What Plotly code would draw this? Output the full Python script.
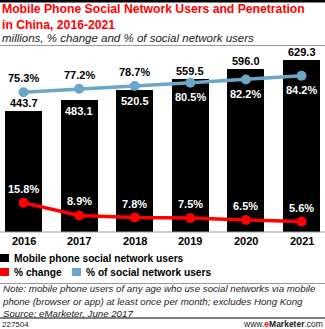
import plotly.graph_objects as go

# Data
years = ["2016", "2017", "2018", "2019", "2020", "2021"]
users_m = [443.7, 483.1, 520.5, 559.5, 596.0, 629.3]
pct_change = [15.8, 8.9, 7.8, 7.5, 6.5, 5.6]
pct_of_sn = [75.3, 77.2, 78.7, 80.5, 82.2, 84.2]

# label placement per bar / point
user_label_inside = [False, True, True, False, False, False]
sn_label_below = [False, False, False, True, True, True]

W, H = 325, 329
PLOT_TOP, PLOT_BOTTOM = 50, 232
PLOT_H = PLOT_BOTTOM - PLOT_TOP

BLUE = "#6aa6c8"
RED = "#ff0000"
FONT = "Liberation Sans, Arial, sans-serif"


def py(pix):
    """pixel row (from top of page) -> paper y"""
    return (PLOT_BOTTOM - pix) / PLOT_H


def px(pix):
    return pix / W


fig = go.Figure()

fig.add_trace(go.Bar(
    x=list(range(len(years))), y=users_m, width=0.665,
    marker=dict(color="#000000", line=dict(width=0)),
    name="Mobile phone social network users", yaxis="y",
    hoverinfo="skip",
))
fig.add_trace(go.Scatter(
    x=list(range(len(years))), y=pct_of_sn, yaxis="y2", mode="lines+markers",
    line=dict(color=BLUE, width=3.5), marker=dict(color=BLUE, size=10),
    name="% of social network users", hoverinfo="skip",
))
fig.add_trace(go.Scatter(
    x=list(range(len(years))), y=pct_change, yaxis="y2", mode="lines+markers",
    line=dict(color=RED, width=3.5), marker=dict(color=RED, size=10),
    name="% change", hoverinfo="skip",
))

ann = []
lab_font = dict(family=FONT, size=11, color="#000")
leg_font = dict(family=FONT, size=10.2, color="#000")

for i, v in enumerate(users_m):
    inside = user_label_inside[i]
    ann.append(dict(
        x=i, y=v, xref="x", yref="y", text=f"<b>{v:.1f}</b>", showarrow=False,
        yanchor="top" if inside else "bottom", yshift=-3 if inside else 0,
        font=dict(family=FONT, size=11, color="#fff" if inside else "#000"),
    ))

for i, v in enumerate(pct_of_sn):
    below = sn_label_below[i]
    ann.append(dict(
        x=i, y=v, xref="x", yref="y2", text=f"<b>{v:.1f}%</b>", showarrow=False,
        yanchor="top" if below else "bottom", yshift=-6 if below else 6,
        font=dict(family=FONT, size=11, color="#fff" if below else "#000"),
    ))

for i, v in enumerate(pct_change):
    ann.append(dict(
        x=i, y=v, xref="x", yref="y2", text=f"<b>{v:.1f}%</b>", showarrow=False,
        yanchor="bottom", yshift=6,
        font=dict(family=FONT, size=11, color="#fff"),
    ))

# x category labels
for i, yr in enumerate(years):
    ann.append(dict(
        x=i, y=py(241), xref="x", yref="paper", text=f"<b>{yr}</b>",
        showarrow=False, yanchor="middle", font=lab_font,
    ))

# title block
ann.append(dict(
    x=0, y=py(17), xref="paper", yref="paper", xanchor="left", yanchor="middle",
    align="left", showarrow=False,
    text="<b>Mobile Phone Social Network Users and Penetration<br>in China, 2016-2021</b>",
    font=dict(family=FONT, size=12.2, color=RED),
))
ann.append(dict(
    x=0, y=py(38), xref="paper", yref="paper", xanchor="left", yanchor="middle",
    showarrow=False, text="<i>millions, % change and % of social network users</i>",
    font=dict(family=FONT, size=11.5, color="#222"),
))

# legend
legend_rows = [
    (0, 258, "#000", "Mobile phone social network users"),
    (0, 272, RED, "% change"),
    (72, 272, BLUE, "% of social network users"),
]
shapes = []
for lx, ly, col, txt in legend_rows:
    shapes.append(dict(type="rect", xref="paper", yref="paper",
                       x0=px(lx), x1=px(lx + 9), y0=py(ly + 4), y1=py(ly - 4),
                       fillcolor=col, line=dict(width=0)))
    ann.append(dict(x=px(lx + 12), y=py(ly), xref="paper", yref="paper",
                    xanchor="left", yanchor="middle", showarrow=False,
                    text=f"<b>{txt}</b>", font=leg_font))

# footnote
note = ("<i>Note: mobile phone users of any age who use social networks via mobile<br>"
        "phone (browser or app) at least once per month; excludes Hong Kong<br>"
        "Source: eMarketer, June 2017</i>")
ann.append(dict(x=0, y=py(301), xref="paper", yref="paper", xanchor="left",
                yanchor="middle", align="left", showarrow=False, text=note,
                font=dict(family=FONT, size=9.7, color="#222")))
ann.append(dict(x=0, y=py(324), xref="paper", yref="paper", xanchor="left",
                yanchor="middle", showarrow=False, text="227504",
                font=dict(family=FONT, size=8, color="#222")))
ann.append(dict(x=1, y=py(324), xref="paper", yref="paper", xanchor="right",
                yanchor="middle", showarrow=False,
                text="www.<b><span style='color:#ff0000'>e</span>Marketer</b>.com",
                font=dict(family=FONT, size=8.5, color="#222")))

# rules
shapes += [
    dict(type="rect", xref="paper", yref="paper", x0=0, x1=1, y0=py(2.5), y1=py(0),
         fillcolor="#000", line=dict(width=0)),
    dict(type="line", xref="paper", yref="paper", x0=0, x1=1, y0=py(45.5), y1=py(45.5),
         line=dict(color="#999", width=1)),
    dict(type="line", xref="paper", yref="paper", x0=0, x1=1, y0=py(232), y1=py(232),
         line=dict(color="#999", width=1)),
    dict(type="line", xref="paper", yref="paper", x0=0, x1=1, y0=py(283.5), y1=py(283.5),
         line=dict(color="#999", width=1)),
    dict(type="line", xref="paper", yref="paper", x0=0, x1=1, y0=py(318), y1=py(318),
         line=dict(color="#000", width=1)),
]

step = 55.6
first = 23.5
fig.update_layout(
    width=W, height=H,
    margin=dict(l=0, r=0, t=PLOT_TOP, b=H - PLOT_BOTTOM, pad=0),
    paper_bgcolor="#fff", plot_bgcolor="#fff",
    showlegend=False,
    xaxis=dict(range=[-first / step, (W - first) / step], showticklabels=False,
               showgrid=False, zeroline=False, fixedrange=True),
    yaxis=dict(range=[0, PLOT_H / 0.273], visible=False, fixedrange=True),
    yaxis2=dict(range=[0, PLOT_H / 1.855], overlaying="y", visible=False,
                fixedrange=True),
    annotations=ann, shapes=shapes,
    bargap=0,
)

fig.write_html("out.html")
